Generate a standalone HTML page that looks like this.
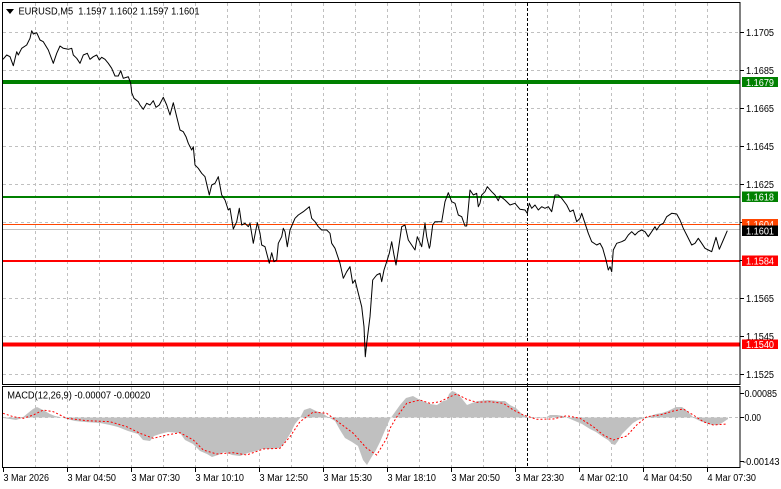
<!DOCTYPE html>
<html><head><meta charset="utf-8"><style>
html,body{margin:0;padding:0;background:#fff;}
svg{display:block;}
text{font-family:"Liberation Sans","DejaVu Sans",sans-serif;font-size:10px;fill:#000;}
</style></head><body>
<svg width="781" height="489" viewBox="0 0 781 489" xmlns="http://www.w3.org/2000/svg">
<rect x="0" y="0" width="781" height="489" fill="#fff"/>
<!-- grid main -->
<g stroke="#c0c0c0" stroke-width="1" stroke-dasharray="3,3" fill="none">
<line x1="3" y1="32.5" x2="740" y2="32.5"/>
<line x1="3" y1="70.5" x2="740" y2="70.5"/>
<line x1="3" y1="108.5" x2="740" y2="108.5"/>
<line x1="3" y1="146.5" x2="740" y2="146.5"/>
<line x1="3" y1="184.5" x2="740" y2="184.5"/>
<line x1="3" y1="222.5" x2="740" y2="222.5"/>
<line x1="3" y1="260.5" x2="740" y2="260.5"/>
<line x1="3" y1="298.5" x2="740" y2="298.5"/>
<line x1="3" y1="336.5" x2="740" y2="336.5"/>
<line x1="3" y1="374.5" x2="740" y2="374.5"/>
<line x1="3" y1="417.5" x2="740" y2="417.5"/>
</g>
<g stroke="#c0c0c0" stroke-width="1" stroke-dasharray="3,3" fill="none">
<path d="M35.5 3V384M67.5 3V384M99.5 3V384M131.5 3V384M163.5 3V384M195.5 3V384M227.5 3V384M259.5 3V384M291.5 3V384M323.5 3V384M355.5 3V384M387.5 3V384M419.5 3V384M451.5 3V384M483.5 3V384M515.5 3V384M547.5 3V384M579.5 3V384M611.5 3V384M643.5 3V384M675.5 3V384M707.5 3V384"/>
<path d="M35.5 387V467M67.5 387V467M99.5 387V467M131.5 387V467M163.5 387V467M195.5 387V467M227.5 387V467M259.5 387V467M291.5 387V467M323.5 387V467M355.5 387V467M387.5 387V467M419.5 387V467M451.5 387V467M483.5 387V467M515.5 387V467M547.5 387V467M579.5 387V467M611.5 387V467M643.5 387V467M675.5 387V467M707.5 387V467"/>
</g>
<!-- day separator -->
<line x1="527.5" y1="3" x2="527.5" y2="467" stroke="#000" stroke-width="1" stroke-dasharray="3,2"/>
<!-- horizontal levels -->
<line x1="3" y1="82" x2="740" y2="82" stroke="#008000" stroke-width="4"/>
<line x1="3" y1="197" x2="740" y2="197" stroke="#008000" stroke-width="2"/>
<line x1="3" y1="224.5" x2="740" y2="224.5" stroke="#ff4500" stroke-width="1"/>
<line x1="3" y1="229.5" x2="740" y2="229.5" stroke="#c0c0c0" stroke-width="1"/>
<line x1="3" y1="261" x2="740" y2="261" stroke="#ff0000" stroke-width="2"/>
<line x1="3" y1="344.5" x2="740" y2="344.5" stroke="#ff0000" stroke-width="4"/>
<!-- price -->
<polyline fill="none" stroke="#000" stroke-width="1" stroke-linejoin="round" points="
3,59.3 6.7,55 10,56.7 13.3,65.7 16.7,51.7 18.3,55 21.7,48.3 26.7,45 30,38.3 31.7,30.7 33.3,34 36.7,32.7 40,40 43.3,41.7 48.3,50 53.3,63.3 56.7,53.3 60,46 63.3,48.3 68.3,49.3 71.7,48.3 73.3,55 76.7,58.3 80,63.3 83.3,55 87.3,53.3 90,59.3 93.3,56.7 96.7,55 99.3,60 101.7,57.3 105,59.3 108.3,63.3 111.7,68.3 115,76 118.3,76 120.7,70.7 123.3,78.3 128.3,76.7 130.7,83.3 131.7,92.7 134,98.3 138.3,101.7 140,105 143.3,109.3 146.7,103.3 150,105 153.3,100.7 156,107.3 159.3,105 163.3,97.3 166.7,105 170,115 173.3,102.7 176.7,116.7 180,130 183.3,131.7 186,136.7 188.3,143.3 191.7,150 193.3,146.7 195,165 198.3,168.3 201.7,173.3 205,176.7 209.3,195 211.7,185 215,183.3 218.3,176.7 221.7,195 225,200 228.3,210 230,208.3 233.3,229 236.7,221.7 239.3,208.3 241.7,225 245,223.3 248.3,226.7 250,223.3 253.3,243.3 257.3,222.7 260,233.3 261.7,245 265,246.7 269.3,263.3 271.7,252.7 274,261.7 276.7,260 278.3,243.3 281.7,236.7 283.3,228.3 285,231.7 287.3,246.7 290,230 295,218.3 298.3,215 303.3,211.7 309.3,206.7 311.7,218.3 315,221.7 318.3,226.7 321.7,230 326.7,230 330,233.3 331.7,243.3 335,248.3 340,263.3 343.3,278.3 346.7,271.7 350,266.7 352.7,283.3 355,280 358.3,293.3 361.7,306.7 364,326.7 365.3,356.7 366.7,343.3 370,316.7 372.7,280 376.7,275 380,273.3 381.7,281.7 384,270 386.7,261.7 389.3,253.3 391.7,241.7 394,255 396,265 398.3,250 401.7,226.7 405,225 408.3,240 415,250 417.3,236.7 421.7,246.7 425,223.3 426.7,236.7 429.3,248.3 430,246 432.7,225 435,221.7 438.3,221.7 441.7,221.7 445,201.7 448.3,192.7 451.7,201.7 455,203.3 458.3,215 461.7,216.7 465,226 466.7,226 470,190 473.3,195 476.7,193.3 478.3,206.7 480,203.3 481.7,195 485,191.7 487.3,186.7 491.7,191.7 495,195 498.3,200.7 500,196 505,200 510,205 515,203.3 520,209.3 525,210 527.3,213.3 529.3,203.3 531.7,208.3 535,205 538.3,210 541.7,206.7 545,208.3 548.3,206.7 551.7,211.7 555,195 558.3,195 561.7,198.3 566.7,205 570,211.7 573.3,210 576.7,221.7 580,218.3 581.7,213.3 585,223.3 588.3,233.3 591.7,241.7 596.7,245 600,243.3 602.7,248.3 606,260 608.3,270 610,266.7 611.7,271.7 613.3,250 616.7,243.3 621.7,241.7 625,240 628.3,235 631.7,231.7 635,235 638.3,231.7 641.7,230 645,231.7 648.3,236.7 651.7,231.7 655,226.7 656.7,230 660,225 663.3,223.3 666.7,216.7 671.7,213.3 676.7,214 680,220 683.3,228.3 686.7,235 691.7,245 695,243.3 698.3,238.3 701.7,243.3 705,248.3 708.3,250 711.7,251.7 716,237.3 719.3,249.3 723.3,240 727.3,230.7"/>
<!-- MACD histogram -->
<polygon fill="#c0c0c0" stroke="none" points="3,417.5 3,418 10,419 16,420 22,418 28,413 33,409 37,407 41,409 45,411 50,414 55,416 60,417 67,419 75,421 85,422 100,423 110,425 118,427 128,431 138,434 143,440 150,441 154,436 160,434 168,432 180,433 185,440 193,444 200,451 207,454 212,457 218,455 225,452 232,455 240,456 248,453 256,451 262,449 270,449 280,448 285,442 290,434 295,424 300,418 304,410 310,408 316,411 322,413 328,417 335,421 340,430 345,438 352,442 358,446 363,460 367,465 371,458 376,450 380,442 386,428 390,419 395,412 400,405 406,398 413,396 420,400 430,404 437,405 443,401 447,400 449,394 452,391 455,392 459,395 463,400 467,405 472,403 478,401 488,400 500,401 505,401 510,405 516,408 522,414 527,417 535,418 545,418 550,415 557,415 563,416 568,418 575,421 582,424 590,429 596,432 603,437 608,440 612,444 615,445 618,441 622,434 628,428 633,423 638,420 645,418 650,416 656,414 662,413 668,411 672,409 676,407 682,407 686,410 690,414 694,418 700,421 706,423 712,425 718,425 722,423 728,419 728,417.5"/>
<!-- MACD signal -->
<polyline fill="none" stroke="#ff0000" stroke-width="1" stroke-dasharray="2,2" points="3,413.3 13.3,416.7 23.3,418.3 33.3,415 43.3,410 53.3,411.7 66.7,418.3 86.7,420.7 110,421.7 126.7,426.7 140,433.3 153.3,438.3 166.7,435 180,432.7 193.3,440 203.3,450 216.7,454 233.3,452.7 246.7,455 263.3,449 280,448.3 290,436.7 300,421.7 313.3,412 326.7,413.3 340,423.3 353.3,433.3 366.7,448.3 376.7,455 386.7,438.3 390,428.3 396.7,417 406.7,403.3 420,400 430,403.3 440,401.7 450,396.7 456.7,394 466.7,399.3 476.7,402.3 490,401.7 503.3,403.3 513.3,410 523.3,415 536.7,419.3 553.3,419 566.7,415.7 580,418.3 593.3,426.7 603.3,435 613.3,440 626.7,436 636.7,425 646.7,416.7 660,415 673.3,411 683.3,409 693.3,415 703.3,421.7 713.3,425 726.7,424"/>
<!-- frames -->
<g fill="none" stroke="#000" stroke-width="1">
<rect x="2.5" y="2.5" width="737.5" height="382"/>
<rect x="2.5" y="386.5" width="737.5" height="81"/>
</g>
<!-- right axis ticks -->
<g stroke="#000" stroke-width="1">
<path d="M740 32.5h4M740 70.5h4M740 108.5h4M740 146.5h4M740 184.5h4M740 222.5h4M740 260.5h4M740 298.5h4M740 336.5h4M740 374.5h4M740 393.5h4M740 417.5h4M740 461.5h4"/>
<path d="M3.5 467v5M67.5 467v5M131.5 467v5M195.5 467v5M259.5 467v5M323.5 467v5M387.5 467v5M451.5 467v5M515.5 467v5M579.5 467v5M643.5 467v5M707.5 467v5"/>
</g>
<!-- right axis labels -->
<text x="746" y="36" textLength="28" lengthAdjust="spacingAndGlyphs">1.1705</text>
<text x="746" y="74" textLength="28" lengthAdjust="spacingAndGlyphs">1.1685</text>
<text x="746" y="112" textLength="28" lengthAdjust="spacingAndGlyphs">1.1665</text>
<text x="746" y="150" textLength="28" lengthAdjust="spacingAndGlyphs">1.1645</text>
<text x="746" y="188" textLength="28" lengthAdjust="spacingAndGlyphs">1.1625</text>
<text x="746" y="226" textLength="28" lengthAdjust="spacingAndGlyphs">1.1605</text>
<text x="746" y="264" textLength="28" lengthAdjust="spacingAndGlyphs">1.1585</text>
<text x="746" y="302" textLength="28" lengthAdjust="spacingAndGlyphs">1.1565</text>
<text x="746" y="340" textLength="28" lengthAdjust="spacingAndGlyphs">1.1545</text>
<text x="746" y="378" textLength="28" lengthAdjust="spacingAndGlyphs">1.1525</text>
<text x="744.5" y="397" textLength="32.5" lengthAdjust="spacingAndGlyphs">0.00085</text>
<text x="744.5" y="421" textLength="16.5" lengthAdjust="spacingAndGlyphs">0.00</text>
<text x="743" y="465" textLength="36.5" lengthAdjust="spacingAndGlyphs">-0.00143</text>
<!-- level boxes -->
<rect x="742" y="77" width="36" height="10" fill="#008000"/>
<text x="746" y="86" textLength="28" lengthAdjust="spacingAndGlyphs" style="fill:#fff">1.1679</text>
<rect x="742" y="191.5" width="36" height="10.5" fill="#008000"/>
<text x="746" y="200.5" textLength="28" lengthAdjust="spacingAndGlyphs" style="fill:#fff">1.1618</text>
<rect x="742" y="219" width="36" height="10" fill="#ff4500"/>
<text x="746" y="228" textLength="28" lengthAdjust="spacingAndGlyphs" style="fill:#fff">1.1604</text>
<rect x="742" y="225.5" width="36" height="10.5" fill="#000"/>
<text x="746" y="234.5" textLength="28" lengthAdjust="spacingAndGlyphs" style="fill:#fff">1.1601</text>
<rect x="742" y="255.5" width="36" height="10.5" fill="#ff0000"/>
<text x="746" y="264.5" textLength="28" lengthAdjust="spacingAndGlyphs" style="fill:#fff">1.1584</text>
<rect x="742" y="339.5" width="36" height="9.5" fill="#ff0000"/>
<text x="746" y="348" textLength="28" lengthAdjust="spacingAndGlyphs" style="fill:#fff">1.1540</text>
<!-- header -->
<polygon points="6,9 14,9 10,14" fill="#000"/>
<text x="18.5" y="14.5" textLength="181" lengthAdjust="spacingAndGlyphs" xml:space="preserve">EURUSD,M5  1.1597 1.1602 1.1597 1.1601</text>
<text x="7.3" y="398.5" textLength="143" lengthAdjust="spacingAndGlyphs">MACD(12,26,9) -0.00007 -0.00020</text>
<!-- time labels -->
<text x="3.5" y="481" textLength="45.5" lengthAdjust="spacingAndGlyphs">3 Mar 2026</text>
<text x="67.5" y="481" textLength="48.5" lengthAdjust="spacingAndGlyphs">3 Mar 04:50</text>
<text x="131.5" y="481" textLength="48.5" lengthAdjust="spacingAndGlyphs">3 Mar 07:30</text>
<text x="195.5" y="481" textLength="48.5" lengthAdjust="spacingAndGlyphs">3 Mar 10:10</text>
<text x="259.5" y="481" textLength="48.5" lengthAdjust="spacingAndGlyphs">3 Mar 12:50</text>
<text x="323.5" y="481" textLength="48.5" lengthAdjust="spacingAndGlyphs">3 Mar 15:30</text>
<text x="387.5" y="481" textLength="48.5" lengthAdjust="spacingAndGlyphs">3 Mar 18:10</text>
<text x="451.5" y="481" textLength="48.5" lengthAdjust="spacingAndGlyphs">3 Mar 20:50</text>
<text x="515.5" y="481" textLength="48.5" lengthAdjust="spacingAndGlyphs">3 Mar 23:30</text>
<text x="579.5" y="481" textLength="48.5" lengthAdjust="spacingAndGlyphs">4 Mar 02:10</text>
<text x="643.5" y="481" textLength="48.5" lengthAdjust="spacingAndGlyphs">4 Mar 04:50</text>
<text x="707.5" y="481" textLength="48.5" lengthAdjust="spacingAndGlyphs">4 Mar 07:30</text>
</svg>
</body></html>
